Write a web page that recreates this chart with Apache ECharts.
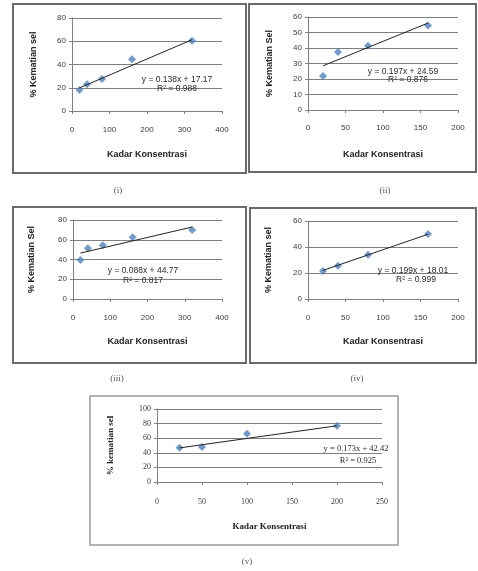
<!DOCTYPE html>
<html>
<head>
<meta charset="utf-8">
<script src="https://cdn.jsdelivr.net/npm/echarts/dist/echarts.min.js"></script>
<style>html,body{margin:0;padding:0;background:#fff}#c{width:478px;height:571px}</style>
</head>
<body>
<div id="c"></div>
<script>
// ---- data ----
const captions = ['(i)', '(ii)', '(iii)', '(iv)', '(v)'];
const xTitle = 'Kadar Konsentrasi';
const yTitles = ['% Kematian sel', '% Kematian Sel', '% Kematian Sel', '% Kematian sel', '% kematian sel'];

const xI = [20, 40, 80, 160, 320];
const yI = [18, 23, 27.5, 44.5, 60.5];
const trendI = [[20, 19.9], [320, 61.3]];
const eqI = ['y = 0.138x + 17.17', 'R² = 0.988'];

const xII = [20, 40, 80, 160];
const yII = [22, 37.5, 41.5, 54.5];
const trendII = [[20, 28.5], [160, 56.1]];
const eqII = ['y = 0.197x + 24.59', 'R² = 0.876'];

const xIII = [20, 40, 80, 160, 320];
const yIII = [39.5, 51.5, 54.5, 62.5, 70];
const trendIII = [[20, 46.5], [320, 72.9]];
const eqIII = ['y = 0.088x + 44.77', 'R² = 0.817'];

const xIV = [20, 40, 80, 160];
const yIV = [21.5, 25.5, 34, 50];
const trendIV = [[20, 22], [160, 49.8]];
const eqIV = ['y = 0.199x + 18.01', 'R² = 0.999'];

const xV = [25, 50, 100, 200];
const yV = [47, 48, 66, 77];
const trendV = [[25, 46.7], [200, 77]];
const eqV = ['y = 0.173x + 42.42', 'R² = 0.925'];

const xAxisRanges = [[0, 400, 100], [0, 200, 50], [0, 400, 100], [0, 200, 50], [0, 250, 50]];
const yAxisRanges = [[0, 80, 20], [0, 60, 10], [0, 80, 20], [0, 60, 20], [0, 100, 20]];

// ---- layout ----
const panels = [
  {xs: xI, ys: yI, trend: trendI, eq: eqI,
   grid: {left: 72, top: 18, width: 150, height: 93},
   frame: [13, 4, 233, 169], eqPos: [[177, 80], [177, 89]], cap: [118, 191],
   xMargin: 15, xNameGap: 39, yNameGap: 34, serif: false},
  {xs: xII, ys: yII, trend: trendII, eq: eqII,
   grid: {left: 308, top: 17, width: 150, height: 93},
   frame: [249, 4, 227, 168], eqPos: [[403, 72], [408, 80]], cap: [385, 191],
   xMargin: 14, xNameGap: 40, yNameGap: 34, serif: false},
  {xs: xIII, ys: yIII, trend: trendIII, eq: eqIII,
   grid: {left: 73, top: 220, width: 149, height: 79},
   frame: [13, 207, 233, 156], eqPos: [[143, 271], [143, 281]], cap: [117, 379],
   xMargin: 15, xNameGap: 38, yNameGap: 37, serif: false},
  {xs: xIV, ys: yIV, trend: trendIV, eq: eqIV,
   grid: {left: 308, top: 221, width: 150, height: 78},
   frame: [250, 208, 226, 155], eqPos: [[413, 271], [416, 280]], cap: [357, 379],
   xMargin: 15, xNameGap: 38, yNameGap: 35, serif: false},
  {xs: xV, ys: yV, trend: trendV, eq: eqV,
   grid: {left: 157, top: 409, width: 225, height: 73},
   frame: [90, 396, 308, 149], eqPos: [[356, 449], [358, 461]], cap: [247, 562],
   xMargin: 16, xNameGap: 40, yNameGap: 42, serif: true}
];

const SANS = 'Liberation Sans';
const SERIF = 'Liberation Serif';
const grids = [], xAxes = [], yAxes = [], series = [], graphics = [];

panels.forEach((p, i) => {
  const fam = p.serif ? SERIF : SANS;
  grids.push(Object.assign({containLabel: false}, p.grid));
  xAxes.push({
    type: 'value', gridIndex: i,
    min: xAxisRanges[i][0], max: xAxisRanges[i][1], interval: xAxisRanges[i][2],
    axisLine: {show: true, onZero: false, lineStyle: {color: '#808080', width: 1}},
    axisTick: {show: true, length: 3, inside: false, lineStyle: {color: '#808080'}},
    splitLine: {show: false},
    axisLabel: {fontSize: 8, color: '#3a3a3a', fontFamily: fam, margin: p.xMargin},
    name: xTitle, nameLocation: 'middle', nameGap: p.xNameGap,
    nameTextStyle: {fontSize: 9, color: '#222', fontFamily: fam, fontWeight: 'bold'}
  });
  yAxes.push({
    type: 'value', gridIndex: i,
    min: yAxisRanges[i][0], max: yAxisRanges[i][1], interval: yAxisRanges[i][2],
    axisLine: {show: true, lineStyle: {color: '#808080', width: 1}},
    axisTick: {show: true, length: 3, lineStyle: {color: '#808080'}},
    splitLine: {show: true, lineStyle: {color: '#7e7e7e', width: 1}},
    axisLabel: {fontSize: 8, color: '#3a3a3a', fontFamily: fam, margin: 6},
    name: yTitles[i], nameLocation: 'middle', nameGap: p.yNameGap, nameRotate: 90,
    nameTextStyle: {fontSize: 9, color: '#222', fontFamily: fam, fontWeight: 'bold'}
  });
  series.push({
    type: 'scatter', xAxisIndex: i, yAxisIndex: i,
    data: p.xs.map((x, k) => [x, p.ys[k]]),
    symbol: 'diamond', symbolSize: 8,
    itemStyle: {color: '#4f81bd'}, z: 2
  });
  series.push({
    type: 'line', xAxisIndex: i, yAxisIndex: i,
    data: p.trend, symbol: 'none', silent: true,
    lineStyle: {color: '#222', width: 1}, z: 3
  });
  graphics.push({
    type: 'rect', shape: {x: p.frame[0], y: p.frame[1], width: p.frame[2], height: p.frame[3]},
    style: {fill: 'none', stroke: p.serif ? '#9a9a9a' : '#6a6a6a', lineWidth: p.serif ? 1.5 : 2}, z: 0
  });
  p.eq.forEach((t, k) => {
    graphics.push({
      type: 'text', x: p.eqPos[k][0], y: p.eqPos[k][1], z: 10,
      style: {text: t, fill: '#2a2a2a', font: '8.5px ' + fam, align: 'center', verticalAlign: 'middle'}
    });
  });
  graphics.push({
    type: 'text', x: p.cap[0], y: p.cap[1], z: 10,
    style: {text: captions[i], fill: '#555', font: '9px ' + SERIF, align: 'center', verticalAlign: 'middle'}
  });
});

const chart = echarts.init(document.getElementById('c'), null, {renderer: 'canvas'});
chart.setOption({
  animation: false,
  backgroundColor: '#fff',
  grid: grids, xAxis: xAxes, yAxis: yAxes, series: series,
  graphic: graphics
});
</script>
</body>
</html>
